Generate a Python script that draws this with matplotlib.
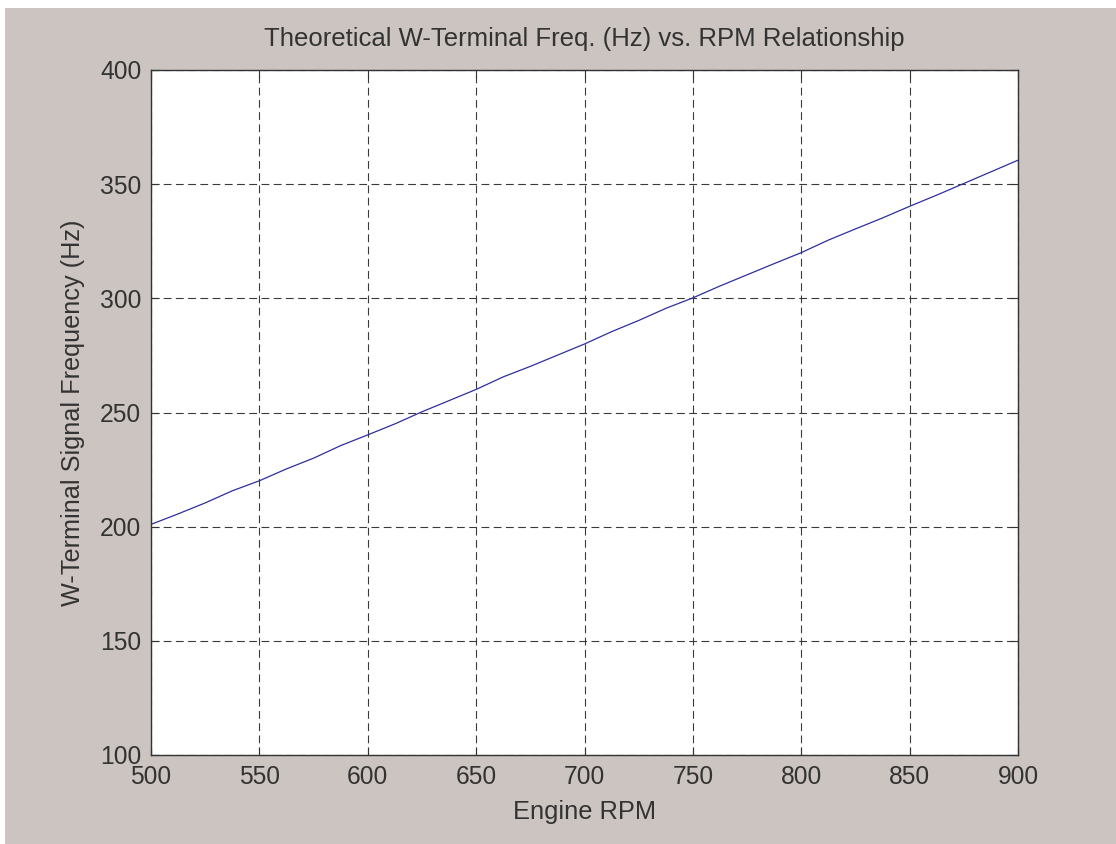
import numpy as np
import matplotlib.pyplot as plt
from matplotlib.patches import Rectangle

# values
rpm = [500, 512.5, 525, 537.5, 550, 562.5, 575, 587.5, 600, 612.5, 625, 637.5,
       650, 662.5, 675, 687.5, 700, 712.5, 725, 737.5, 750, 762.5, 775, 787.5,
       800, 812.5, 825, 837.5, 850, 862.5, 875, 887.5, 900]
freq = [201.0, 205.6, 210.4, 215.7, 220.1, 225.3, 230.0, 235.5, 240.2, 245.0,
        250.3, 255.2, 260.1, 265.6, 270.2, 275.1, 280.0, 285.4, 290.3, 295.6,
        300.2, 305.4, 310.3, 315.2, 320.0, 325.5, 330.4, 335.2, 340.3, 345.2,
        350.3, 355.4, 360.5]
xticks = [500, 550, 600, 650, 700, 750, 800, 850, 900]
yticks = [100, 150, 200, 250, 300, 350, 400]

bg = '#cbc4c0'
ink = '#333333'

plt.rcParams['font.family'] = ['Liberation Sans', 'DejaVu Sans']

fig = plt.figure(figsize=(11.16, 8.44), dpi=100, facecolor='white')
# grey window area (thin white strip left and top like the screenshot)
fig.patches.append(Rectangle((5/1116, 0), 1, 1 - 8/844, transform=fig.transFigure,
                             facecolor=bg, edgecolor='none', zorder=-10))

ax = fig.add_axes([151/1116, 1 - 755/844, 867/1116, 685/844])
ax.set_facecolor('white')

ax.plot(rpm, freq, color='#2e2e9e', lw=0.9)

ax.set_xlim(500, 900)
ax.set_ylim(100, 400)
ax.set_xticks(xticks)
ax.set_yticks(yticks)
ax.grid(True, color='#3a3a3a', lw=0.8, linestyle=(0, (7.0, 4.0)))
ax.set_axisbelow(True)

ax.tick_params(direction='in', length=6, width=0.8, color=ink, labelcolor=ink,
               labelsize=17.7, top=True, right=True, pad=7)
for s in ax.spines.values():
    s.set_color(ink)
    s.set_linewidth(1.0)

ax.set_title('Theoretical W-Terminal Freq. (Hz) vs. RPM Relationship',
             fontsize=18.5, color=ink, pad=17)
ax.set_xlabel('Engine RPM', fontsize=18.3, color=ink, labelpad=8)
ax.set_ylabel('W-Terminal Signal Frequency (Hz)', fontsize=18.2, color=ink, labelpad=11)

fig.savefig('out.png', dpi=100, facecolor=fig.get_facecolor())
